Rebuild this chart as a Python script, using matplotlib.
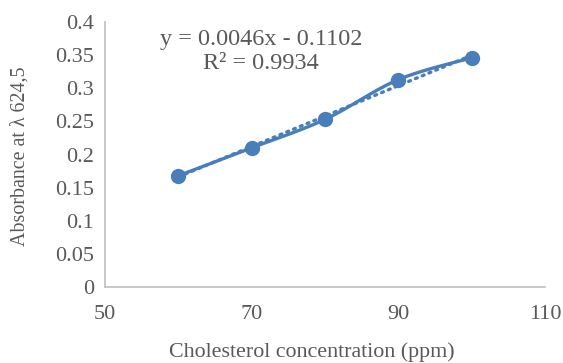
import numpy as np
import matplotlib
matplotlib.use("Agg")
import matplotlib.pyplot as plt

conc = [60, 70, 80, 90, 100]
absorb = [0.168, 0.210, 0.253, 0.313, 0.346]
x_ticks = [50, 70, 90, 110]
y_ticks = [0, 0.05, 0.1, 0.15, 0.2, 0.25, 0.3, 0.35, 0.4]
y_tick_labels = ["0", "0.05", "0.1", "0.15", "0.2", "0.25", "0.3", "0.35", "0.4"]
eq_text = "y = 0.0046x - 0.1102"
r2_text = "R² = 0.9934"

blue = "#4a7ebb"
gray = "#595959"
font = "Liberation Serif"
plt.rcParams["font.family"] = [font, "DejaVu Serif"]


def catmull(xs, ys, n=30):
    xs = np.asarray(xs, float); ys = np.asarray(ys, float)
    P = np.column_stack([xs, ys])
    P = np.vstack([P[0], P, P[-1]])
    out = []
    for i in range(1, len(P) - 2):
        p0, p1, p2, p3 = P[i - 1], P[i], P[i + 1], P[i + 2]
        c1 = p1 + (p2 - p0) / 6
        c2 = p2 - (p3 - p1) / 6
        t = np.linspace(0, 1, n)[:, None]
        seg = ((1 - t) ** 3) * p1 + 3 * ((1 - t) ** 2) * t * c1 + 3 * (1 - t) * t ** 2 * c2 + t ** 3 * p2
        out.append(seg if i == 1 else seg[1:])
    s = np.vstack(out)
    return s[:, 0], s[:, 1]


fig = plt.figure(figsize=(5.63, 3.63), dpi=100)
ax = fig.add_axes([105 / 563, 1 - 287 / 363, 440 / 563, 265 / 363])

sx, sy = catmull(conc, absorb)
ax.plot(sx, sy, color=blue, lw=2.4, solid_capstyle="round", zorder=3)
ax.plot(conc, absorb, "o", color=blue, ms=10, zorder=4)

m, b = np.polyfit(conc, absorb, 1)
tx = np.array([conc[0], conc[-1]])
ax.plot(tx, m * tx + b, color=blue, lw=2.4, linestyle=(0, (0.6, 1.6)),
        dash_capstyle="round", zorder=2)

ax.set_xlim(50, 110)
ax.set_ylim(0, 0.4)
ax.set_xticks(x_ticks)
ax.set_yticks(y_ticks)
ax.set_yticklabels(y_tick_labels)
ax.tick_params(length=0, labelsize=16, labelcolor=gray, pad=8)
ax.tick_params(axis="x", pad=13)
for s in ["top", "right"]:
    ax.spines[s].set_visible(False)
for s in ["left", "bottom"]:
    ax.spines[s].set_color("#bfbfbf")
    ax.spines[s].set_linewidth(1.2)

ax.text(71.3, 0.374, eq_text, ha="center", va="center", fontsize=17.5, color=gray)
ax.text(71.3, 0.337, r2_text, ha="center", va="center", fontsize=17.5, color=gray)

fig.text(20 / 563, 1 - 156 / 363, "Absorbance at λ 624,5", rotation=90,
         ha="center", va="center", fontsize=14.4, color=gray)
fig.text(312 / 563, 1 - 352 / 363, "Cholesterol concentration (ppm)",
         ha="center", va="center", fontsize=15.8, color=gray)

fig.savefig("out.png", dpi=100)
